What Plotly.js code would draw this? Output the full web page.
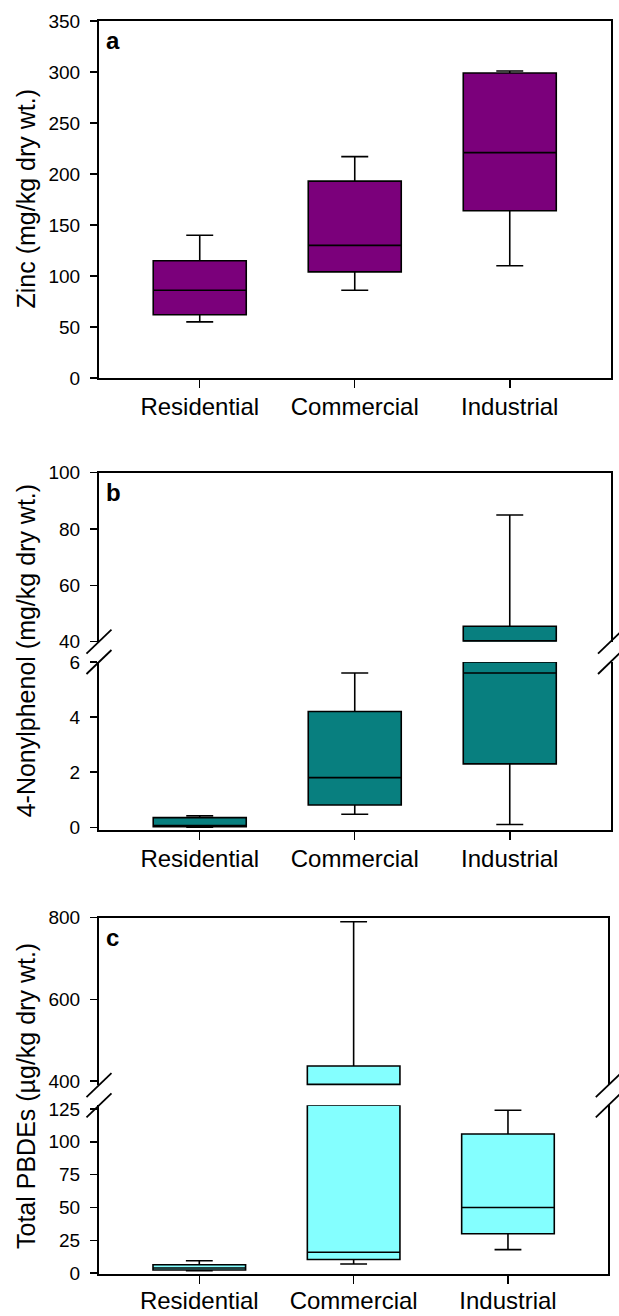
<!DOCTYPE html>
<html>
<head>
<meta charset="utf-8">
<script src="https://cdn.plot.ly/plotly-3.0.1.min.js"></script>
<style>html,body{margin:0;padding:0;background:#fff;}#chart{width:619px;height:1316px;}</style>
</head>
<body>
<div id="chart"></div>
<script>
// ---------- data ----------
const categories = ['Residential', 'Commercial', 'Industrial'];

// (a) Zinc, mg/kg dry wt.
const zincLower  = [55, 86, 110];
const zincQ1     = [62, 104, 164];
const zincMedian = [86, 130, 221];
const zincQ3     = [115, 193, 299];
const zincUpper  = [140, 217, 301];

// (b) 4-Nonylphenol, mg/kg dry wt.
const npLower  = [0.0, 0.47, 0.1];
const npQ1     = [0.02, 0.81, 2.3];
const npMedian = [0.06, 1.8, 5.6];
const npQ3     = [0.35, 4.2, 45.5];
const npUpper  = [0.42, 5.6, 85];

// (c) Total PBDEs, ug/kg dry wt.
const pbdeLower  = [2, 7, 18];
const pbdeQ1     = [2.5, 10.5, 30];
const pbdeMedian = [4, 16, 50];
const pbdeQ3     = [6.5, 437, 106];
const pbdeUpper  = [9.5, 790, 124];

const zincTicks = [0, 50, 100, 150, 200, 250, 300, 350];
const npTicksLow = [0, 2, 4, 6];
const npTicksHigh = [40, 60, 80, 100];
const pbdeTicksLow = [0, 25, 50, 75, 100, 125];
const pbdeTicksHigh = [400, 600, 800];

// ---------- style ----------
const FONT = 'Arial, "Liberation Sans", sans-serif';
const PURPLE = '#7b007b';
const TEAL = '#087f7f';
const CYAN = '#84ffff';

const W = 619, H = 1316;
const xDomAB = [0.1599, 0.9863];
const xDomC = [0.1599, 0.9827];
const yDomA = [0.71277, 0.98404];
const yDomBhi = [0.51239, 0.64081];
const yDomBlo = [0.36930, 0.49696];
const yDomChi = [0.17538, 0.30266];
const yDomClo = [0.03169, 0.16011];

const rngBhi = [40, 100], rngBlo = [-0.1, 6];
const rngChi = [390, 800], rngClo = [-0.8, 127.8];

function boxTrace(stats, fill, xa, ya, seg) {
  const [lo, q1, med, q3, up] = stats;
  const xs = [], L = [], Q1 = [], M = [], Q3 = [], U = [];
  const c = v => seg ? Math.min(Math.max(v, seg[0]), seg[1]) : v;
  categories.forEach((cat, i) => {
    if (seg && (q3[i] < seg[0] || q1[i] > seg[1])) return;
    xs.push(cat); L.push(c(lo[i])); Q1.push(c(q1[i])); M.push(c(med[i]));
    Q3.push(c(q3[i])); U.push(c(up[i]));
  });
  return {
    type: 'box', x: xs, lowerfence: L, q1: Q1, median: M, q3: Q3, upperfence: U,
    xaxis: xa, yaxis: ya, fillcolor: fill, width: 0.6, whiskerwidth: 0.29,
    line: {color: '#000', width: 1.6}, boxpoints: false, hoverinfo: 'skip', showlegend: false
  };
}

const zinc = [zincLower, zincQ1, zincMedian, zincQ3, zincUpper];
const np = [npLower, npQ1, npMedian, npQ3, npUpper];
const pbde = [pbdeLower, pbdeQ1, pbdeMedian, pbdeQ3, pbdeUpper];

const traces = [
  boxTrace(zinc, PURPLE, 'x', 'y', null),
  boxTrace(np, TEAL, 'x2', 'y2', rngBlo),
  boxTrace(np, TEAL, 'x3', 'y3', rngBhi),
  boxTrace(pbde, CYAN, 'x4', 'y4', rngClo),
  boxTrace(pbde, CYAN, 'x5', 'y5', rngChi)
];

function xAxis(domain, anchor, bottom, mirror, standoff) {
  return {
    domain: domain, anchor: anchor, type: 'category',
    categoryorder: 'array', categoryarray: categories, range: [-0.65, 2.65],
    showline: true, linecolor: '#000', linewidth: 2, mirror: mirror,
    showgrid: false, zeroline: false, fixedrange: true,
    side: bottom ? 'bottom' : 'top',
    ticks: bottom ? 'outside' : '', ticklen: 8, tickwidth: 1.5, tickcolor: '#000',
    ticklabelstandoff: standoff || 0,
    showticklabels: bottom, tickfont: {family: FONT, size: 24, color: '#000'}
  };
}
function yAxis(domain, anchor, range, ticks) {
  return {
    domain: domain, anchor: anchor, range: range, tickmode: 'array', tickvals: ticks,
    showline: true, linecolor: '#000', linewidth: 2, mirror: true,
    showgrid: false, zeroline: false, fixedrange: true,
    ticks: 'outside', ticklen: 7, tickwidth: 1.5, tickcolor: '#000', ticklabelstandoff: 6,
    tickfont: {family: FONT, size: 19, color: '#000'}
  };
}

// break slashes at segment ends
const shapes = [];
function slash(xPaper, yPaper) {
  shapes.push({
    type: 'line', xref: 'paper', yref: 'paper',
    xsizemode: 'pixel', ysizemode: 'pixel', xanchor: xPaper, yanchor: yPaper,
    x0: -12.5, x1: 12.5, y0: -12, y1: 12, line: {color: '#000', width: 1.8}
  });
}
[[xDomAB, yDomBhi, yDomBlo], [xDomC, yDomChi, yDomClo]].forEach(([xd, hi, lo]) => {
  [xd[0], xd[1]].forEach(xp => { slash(xp, hi[0]); slash(xp, lo[1]); });
});

const annotations = [];
function yTitle(text, top, bottom) {
  annotations.push({
    text: text, xref: 'paper', yref: 'paper', x: 26 / W, y: (top + bottom) / 2,
    xanchor: 'center', yanchor: 'middle', textangle: -90, showarrow: false,
    font: {family: FONT, size: 25, color: '#000'}
  });
}
yTitle('Zinc (mg/kg dry wt.)', yDomA[1], yDomA[0]);
yTitle('4-Nonylphenol (mg/kg dry wt.)', yDomBhi[1], yDomBlo[0]);
yTitle('Total PBDEs (\u00b5g/kg dry wt.)', yDomChi[1], yDomClo[0]);

function letter(t, xr, yr) {
  annotations.push({
    text: '<b>' + t + '</b>', xref: xr + ' domain', yref: yr + ' domain', x: 0, y: 1,
    xanchor: 'left', yanchor: 'top', xshift: 5, yshift: -4, showarrow: false,
    font: {family: FONT, size: 24, color: '#000'}
  });
}
letter('a', 'x', 'y');
letter('b', 'x3', 'y3');
letter('c', 'x5', 'y5');

const layout = {
  width: W, height: H, margin: {l: 0, r: 0, t: 0, b: 0},
  paper_bgcolor: '#fff', plot_bgcolor: '#fff', showlegend: false,
  font: {family: FONT, color: '#000'},
  xaxis: xAxis(xDomAB, 'y', true, true, -2),
  yaxis: yAxis(yDomA, 'x', [0, 350], zincTicks),
  xaxis2: xAxis(xDomAB, 'y2', true, false, -2),
  yaxis2: yAxis(yDomBlo, 'x2', rngBlo, npTicksLow),
  xaxis3: xAxis(xDomAB, 'y3', false, false),
  yaxis3: yAxis(yDomBhi, 'x3', rngBhi, npTicksHigh),
  xaxis4: xAxis(xDomC, 'y4', true, false, -4),
  yaxis4: yAxis(yDomClo, 'x4', rngClo, pbdeTicksLow),
  xaxis5: xAxis(xDomC, 'y5', false, false),
  yaxis5: yAxis(yDomChi, 'x5', rngChi, pbdeTicksHigh),
  shapes: shapes, annotations: annotations
};

Plotly.newPlot('chart', traces, layout, {staticPlot: true, displayModeBar: false});
</script>
</body>
</html>
